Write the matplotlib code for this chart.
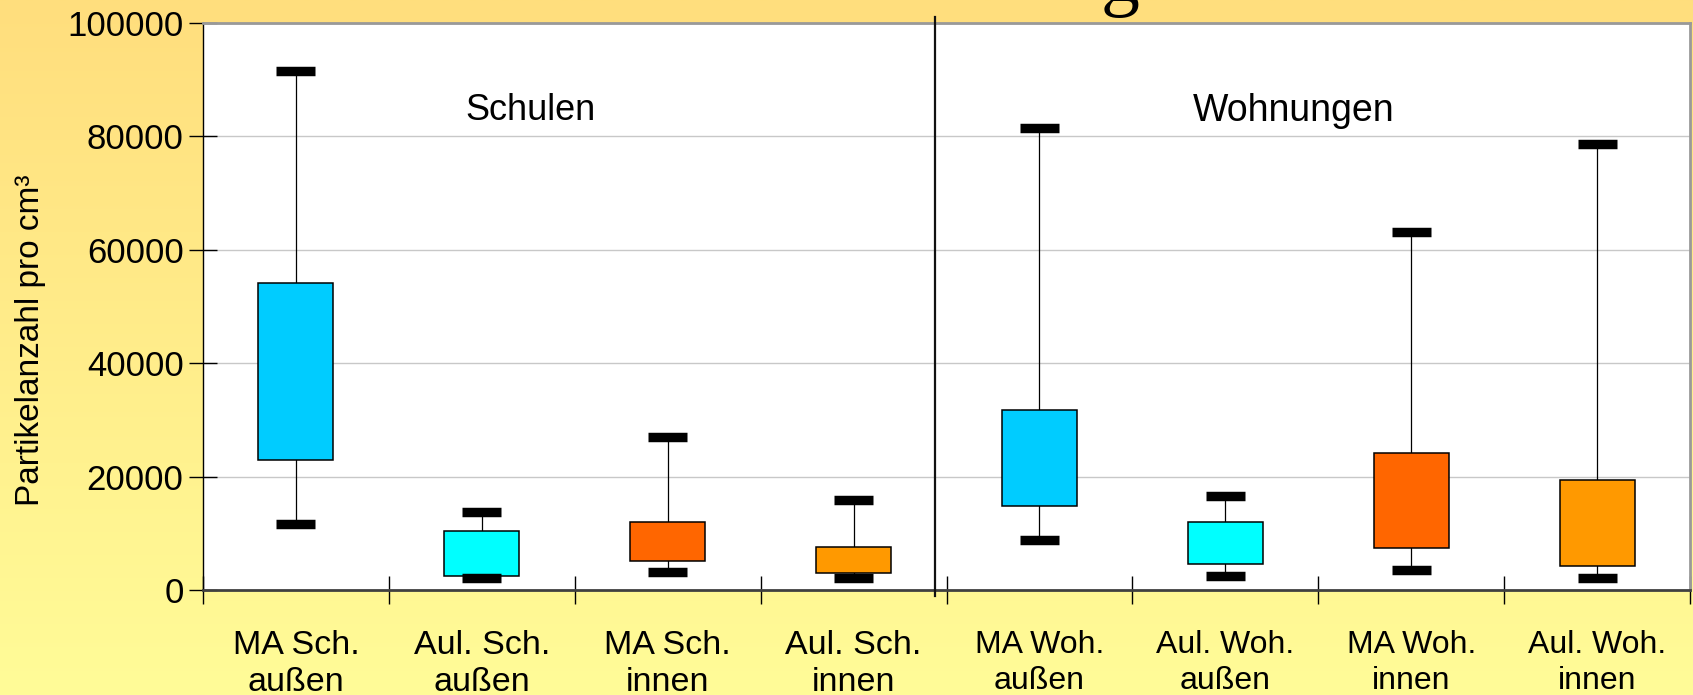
import numpy as np
import matplotlib
matplotlib.use('Agg')
import matplotlib.pyplot as plt
import matplotlib.transforms as mtransforms

# Partikelanzahl pro cm3
categories = ['MA Sch.\naußen', 'Aul. Sch.\naußen', 'MA Sch.\ninnen', 'Aul. Sch.\ninnen',
              'MA Woh.\naußen', 'Aul. Woh.\naußen', 'MA Woh.\ninnen', 'Aul. Woh.\ninnen']
maximum = [91500, 13700, 27000, 15800, 81500, 16600, 63200, 78700]
quart_3 = [54100, 10400, 12000, 7600, 31800, 12000, 24200, 19400]
quart_1 = [22900, 2500, 5100, 3000, 14900, 4600, 7400, 4200]
minimum = [11600, 2200, 3200, 2100, 8800, 2500, 3600, 2100]
colors = ['#00CCFF', '#00FFFF', '#FF6600', '#FF9900',
          '#00CCFF', '#00FFFF', '#FF6600', '#FF9900']
yticks = [0, 20000, 40000, 60000, 80000, 100000]

plt.rcParams['font.family'] = ['Liberation Sans', 'DejaVu Sans']

fig = plt.figure(figsize=(16.93, 6.95), dpi=100)

# yellow gradient background
bg = fig.add_axes([0, 0, 1, 1], zorder=-10)
top = np.array([255, 222, 125]) / 255
bottom = np.array([255, 252, 152]) / 255
t = np.linspace(0, 1, 256)[:, None]
grad = top * (1 - t) + bottom * t
bg.imshow(grad[:, None, :], aspect='auto', extent=[0, 1, 0, 1])
bg.axis('off')

ax = fig.add_axes([203 / 1693, 105 / 695, 1487 / 1693, 567 / 695])
ax.set_facecolor('white')

stats = []
for i in range(len(categories)):
    stats.append({'whislo': minimum[i], 'q1': quart_1[i], 'med': (quart_1[i] + quart_3[i]) / 2,
                  'q3': quart_3[i], 'whishi': maximum[i], 'fliers': []})

pos = np.arange(len(categories))
res = ax.bxp(stats, positions=pos, widths=0.403, capwidths=0.21, patch_artist=True,
             showfliers=False,
             boxprops=dict(edgecolor='black', linewidth=1.1),
             whiskerprops=dict(color='black', linewidth=0.9),
             capprops=dict(color='black', linewidth=6.8, solid_capstyle='butt'),
             medianprops=dict(linewidth=0))
for box, c in zip(res['boxes'], colors):
    box.set_facecolor(c)
    box.set_zorder(3)
for cap in res['caps']:
    cap.set_zorder(4)

ax.set_xlim(-0.5, 7.5)
ax.set_ylim(0, 100000)
ax.set_yticks(yticks)
ax.set_yticklabels([str(v) for v in yticks])
ax.yaxis.grid(True, color='#C8C8C8', linewidth=1)
ax.set_axisbelow(True)

ax.set_xticks(np.arange(-0.5, 8.0, 1.0))
ax.set_xticklabels([])
ax.set_xticks(pos, minor=True)
ax.set_xticklabels(categories, minor=True, linespacing=1.25)
ax.tick_params(axis='x', which='major', direction='inout', length=20, width=1)
ax.tick_params(axis='x', which='minor', length=0, pad=29, labelsize=24.5)
ax.tick_params(axis='y', direction='inout', length=20, width=1, pad=4, labelsize=25)
for lab in ax.get_xticklabels(minor=True)[4:]:
    lab.set_fontsize(23)

ax.spines['left'].set_color('black')
ax.spines['left'].set_linewidth(1)
ax.spines['bottom'].set_color('#404040')
ax.spines['bottom'].set_linewidth(2)
for s in ['top', 'right']:
    ax.spines[s].set_color('#999999')
    ax.spines[s].set_linewidth(2)

# divider between Schulen and Wohnungen
trans = mtransforms.blended_transform_factory(ax.transData, ax.transAxes)
ax.plot([3.44, 3.44], [-0.011, 1.011], color='#111111', linewidth=1.6,
        transform=trans, clip_on=False, zorder=5)

ax.text(1.26, 84500, 'Schulen', fontsize=26, ha='center', va='center')
ax.text(5.37, 84500, 'Wohnungen', fontsize=27, ha='center', va='center')

fig.text(31 / 1693, 1 - 340 / 695, 'Partikelanzahl pro cm³', rotation=90,
         fontsize=24, ha='center', va='center')

# descender of the cut-off title
fig.text(1120 / 1693, 1 - 1 / 695, 'g', fontsize=56, family='Liberation Serif',
         ha='center', va='baseline')

fig.savefig('out.png', dpi=100)
